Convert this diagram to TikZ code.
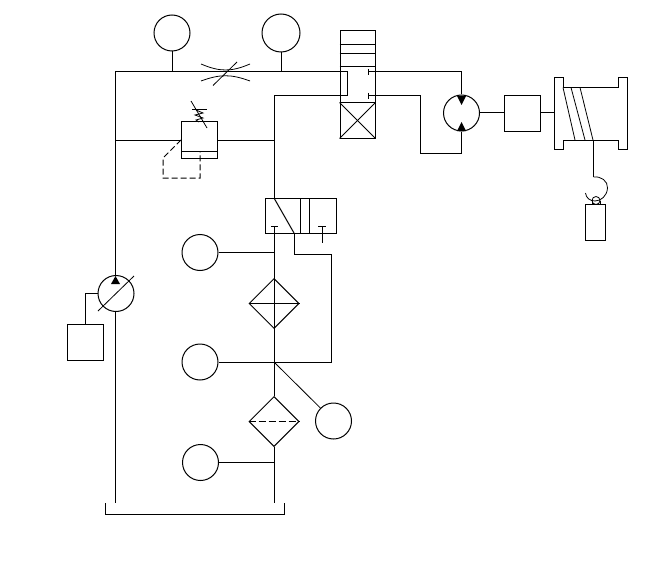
\documentclass[tikz,border=0pt]{standalone}
\usetikzlibrary{arrows,shapes.geometric}

\begin{document}
\begin{tikzpicture}[x=1pt,y=-1pt,line width=1pt,>=triangle 45]
	\useasboundingbox (0,0) rectangle (666,567);
	\tikzstyle{every node} = [draw=black,inner sep=0pt];
	\tikzstyle{gauge} = [circle,minimum size=36pt];
	\tikzstyle{block} = [rectangle,minimum width=36pt,minimum height=36pt];
	\tikzstyle{cooler} = [diamond,aspect=1,minimum width=50pt,minimum height=50pt];
	\tikzstyle{thin} = [line width=0.8pt];
	\tikzstyle{tip} = [fill=black,draw=none];
	% gauges
	\node[gauge] (gaugeA) at (172, 33) {};
	\node[gauge,minimum size=38pt] (gaugeB) at (281, 33) {};
	\node[gauge] (gaugeC) at (200, 252.5) {};
	\node[gauge] (gaugeD) at (200, 362) {};
	\node[gauge] (gaugeE) at (333.5, 421) {};
	\node[gauge] (gaugeF) at (200.5, 462.5) {};
	% pump, motor and boxes
	\node[gauge] (pump) at (116, 293.5) {};
	\node[gauge] (motor) at (461.5, 113) {};
	\node[block] (drive) at (85, 342) {};
	\node[block,minimum height=35pt] (gear) at (522, 113.5) {};
	\node[block] (relief) at (199.5, 140) {};
	\node[block,minimum width=20pt] (load) at (595.5, 222) {};
	\node[cooler] (coolerA) at (274, 303.5) {};
	\node[cooler] (coolerB) at (274, 421.5) {};
	% upper valve
	\node[rectangle,minimum width=35pt,minimum height=107pt] (upper) at (357.5, 84.5) {};
	\node[rectangle,minimum width=35pt,minimum height=35pt] (cross) at (357.5, 120.5) {};
	\draw (upper.west |- 0,45) -- (upper.east |- 0,45);
	\draw (upper.west |- 0,54) -- (upper.east |- 0,54);
	\draw (upper.west |- 0,67) -- (upper.east |- 0,67);
	\draw[thin] (cross.north west) -- (cross.south east);
	\draw[thin] (cross.north east) -- (cross.south west);
	% lower valve
	\node[rectangle,minimum width=71pt,minimum height=35pt] (lower) at (300.5, 215.5) {};
	\draw (300, 198) -- (300, 233);
	\draw (309, 198) -- (309, 233);
	\coordinate (portA) at (274, 198);
	\coordinate (portB) at (294, 233);
	\coordinate (portC) at (274, 226);
	\coordinate (portD) at (322, 226);
	\draw (portA) -- (portB);
	\draw (271, 226) -- (278, 226);
	\draw (318, 226) -- (326, 226);
	\draw (portD) -- (322, 243);
	% main lines
	\coordinate (topleft) at (115, 72);
	\coordinate (topright) at (347.5, 72);
	\coordinate (retright) at (347.5, 96);
	\coordinate (retleft) at (274, 96);
	\coordinate (tankA) at (115, 503);
	\coordinate (tankB) at (274, 503);
	\draw (pump.north -| topleft) -- (topleft) -- (topright) -- (retright) -- (retleft) -- (portA);
	\draw (pump.south -| topleft) -- (tankA);
	\draw (topleft |- relief.west) -- (relief.west);
	\draw (relief.east) -- (retleft |- relief.east);
	\draw (gaugeA) -- (gaugeA |- topleft);
	\draw (gaugeB) -- (gaugeB |- topleft);
	\draw (pump.west) -- (drive.north |- pump.west) -- (drive.north);
	\draw (portC) -- (coolerA.south);
	\draw (coolerA.south) -- (coolerB.north);
	\draw (coolerB.south) -- (tankB);
	\draw (gaugeC) -- (portC |- gaugeC);
	\draw (gaugeF) -- (tankB |- gaugeF);
	\draw (portB) -- (294, 254) -- (331.5, 254) -- (331.5, 362) -- (gaugeD);
	\draw[thin] (274, 362) -- (gaugeE);
	% tank
	\draw (105, 503) -- (105, 514.5) -- (284.5, 514.5) -- (284.5, 503);
	% coolers
	\draw (coolerA.west) -- (coolerA.east);
	\draw[dash pattern=on 7pt off 3pt] (coolerB.west) -- (coolerB.east);
	% pump and motor marks
	\fill[tip] (111, 284) -- (120, 284) -- (115.5, 276) -- cycle;
	\draw[thin] (98, 311) -- (134, 276);
	\fill[tip] (457, 96) -- (466, 96) -- (461.5, 105) -- cycle;
	\fill[tip] (457, 131) -- (466, 131) -- (461.5, 122) -- cycle;
	% lines to motor
	\draw (368, 72) -- (461.5, 72) -- (motor.north);
	\draw (368, 96) -- (420.5, 96) -- (420.5, 153) -- (461.5, 153) -- (motor.south);
	\draw (368, 69) -- (368, 75);
	\draw (368, 93) -- (368, 99);
	% throttle
	\draw[thin] (201, 64) .. controls (220, 72) and (231, 72) .. (250, 64);
	\draw[thin] (201, 81) .. controls (220, 74) and (231, 74) .. (250, 81);
	\draw[thin] (213, 85.5) -- (237, 62);
	% relief valve
	\draw (relief.west |- 0,151) -- (relief.east |- 0,151);
	\draw[dash pattern=on 6pt off 3pt] (relief.west) -- (163, 158) -- (163, 178) -- (200, 178) -- (200, 151);
	\draw[thin] (191, 101) -- (207, 128);
	\draw (192, 110) -- (207, 110);
	\draw[thin] (196, 110) -- (203, 113) -- (195, 115) -- (203, 118) -- (196, 120) -- (199, 122);
	% gear and drum
	\draw (motor.east) -- (gear.west |- motor.east);
	\draw (gear.east |- motor.east) -- (554, 113);
	\draw (554, 78) -- (563, 78) -- (563, 87.5) -- (618, 87.5) -- (618, 78) -- (627, 78) -- (627, 149) -- (618, 149) -- (618, 140) -- (563, 140) -- (563, 149) -- (554, 149) -- cycle;
	\draw[thin] (563, 87.5) -- (575, 140);
	\draw[thin] (571, 87.5) -- (585, 140);
	\draw[thin] (580, 87.5) -- (593, 140);
	% hook
	\coordinate (rope) at (593.5, 177);
	\draw (593.5, 140) -- (rope);
	\draw[thin] (rope) .. controls (601, 176) and (608, 181) .. (607.5, 188) .. controls (607, 196) and (601, 201) .. (595, 201) .. controls (590, 201) and (586, 198) .. (585.5, 193);
	\draw[thin] (596, 200.5) circle (4pt);
	\draw[thin] (592, 201) -- (592, 204);
	\draw[thin] (600, 201) -- (600, 204);
\end{tikzpicture}
\end{document}
